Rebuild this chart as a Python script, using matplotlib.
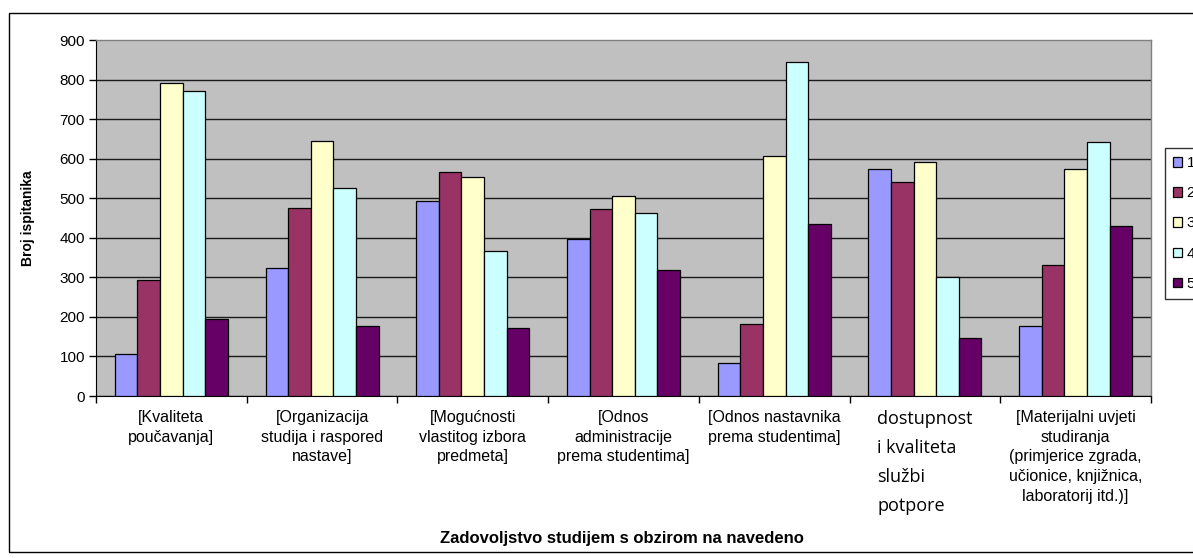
import matplotlib
matplotlib.use("Agg")
import matplotlib.pyplot as plt
import matplotlib.patches as mpatches
import numpy as np

categories = [
    "[Kvaliteta\npoučavanja]",
    "[Organizacija\nstudija i raspored\nnastave]",
    "[Mogućnosti\nvlastitog izbora\npredmeta]",
    "[Odnos\nadministracije\nprema studentima]",
    "[Odnos nastavnika\nprema studentima]",
    "dostupnost\ni kvaliteta\nslužbi\npotpore",
    "[Materijalni uvjeti\nstudiranja\n(primjerice zgrada,\nučionice, knjižnica,\nlaboratorij itd.)]",
]
series_names = ["1", "2", "3", "4", "5"]
s1 = [106, 324, 494, 396, 84, 573, 178]
s2 = [292, 475, 566, 472, 182, 540, 332]
s3 = [791, 645, 553, 505, 608, 592, 573]
s4 = [770, 527, 366, 462, 844, 302, 641]
s5 = [195, 178, 172, 319, 436, 146, 430]
series = [s1, s2, s3, s4, s5]
colors = ["#9999FF", "#993366", "#FFFFCC", "#CCFFFF", "#660066"]
yticks = [0, 100, 200, 300, 400, 500, 600, 700, 800, 900]

W, H = 1193, 558
fig = plt.figure(figsize=(W / 100, H / 100), dpi=100)
fig.patch.set_facecolor("white")

# outer chart border
fig.add_artist(mpatches.Rectangle((8.5 / W, 1 - 551.5 / H), 1.5, (551.5 - 13) / H,
                                  transform=fig.transFigure, fill=False, edgecolor="black",
                                  linewidth=1, clip_on=False))

ax = fig.add_axes([96 / W, 1 - 396 / H, (1151 - 96) / W, (396 - 40) / H])
ax.set_facecolor("#C0C0C0")

x = np.arange(len(categories))
bw = 0.15
for i, (vals, c, name) in enumerate(zip(series, colors, series_names)):
    ax.bar(x + (i - 2) * bw, vals, width=bw, color=c, edgecolor="black", linewidth=0.9,
           label=name, zorder=3)

ax.set_xlim(-0.5, len(categories) - 0.5)
ax.set_ylim(0, 900)
ax.set_yticks(yticks)
ax.yaxis.grid(True, color="#1a1a1a", linewidth=1.0, zorder=1)
ax.set_axisbelow(True)
ax.get_ygridlines()[-1].set_visible(False)
ax.tick_params(axis="y", direction="out", length=5, width=1, labelsize=11, pad=3, colors="black")
for lab in ax.get_yticklabels():
    lab.set_fontfamily("Liberation Sans")

ax.set_xticks(np.arange(-0.5, len(categories), 1.0))
ax.set_xticklabels([])
ax.tick_params(axis="x", which="major", direction="out", length=5, width=1)
ax.set_xticks(x, minor=True)
ax.set_xticklabels(categories, minor=True, fontsize=11.5, fontfamily="Liberation Sans",
                   linespacing=1.4)
ax.tick_params(axis="x", which="minor", length=0, pad=10)
lab6 = ax.xaxis.get_minorticklabels()[5]
lab6.set_fontfamily("Open Sans")
lab6.set_fontsize(13)
lab6.set_linespacing(1.8)
lab6.set_multialignment("left")

for side in ["top", "right"]:
    ax.spines[side].set_color("#808080")
    ax.spines[side].set_linewidth(1)
ax.spines["left"].set_color("black")
ax.spines["bottom"].set_color("black")

ax.set_ylabel("Broj ispitanika", fontsize=10, fontweight="bold", fontfamily="Liberation Sans")
ax.yaxis.set_label_coords((35 - 96) / (1151 - 96), 0.5)
fig.text(622 / W, 1 - 539 / H, "Zadovoljstvo studijem s obzirom na navedeno", fontsize=12,
         fontweight="bold", fontfamily="Liberation Sans", ha="center", va="center")

leg = fig.legend(loc="upper left", bbox_to_anchor=(1165 / W, 1 - 148 / H), frameon=True,
                 fancybox=False, edgecolor="black", handlelength=0.55,
                 handleheight=0.55, handletextpad=0.3, labelspacing=1.05, borderpad=0.55,
                 borderaxespad=0, prop={"family": "Liberation Sans", "size": 11})
leg.get_frame().set_linewidth(1)

fig.savefig("out.png", dpi=100)
